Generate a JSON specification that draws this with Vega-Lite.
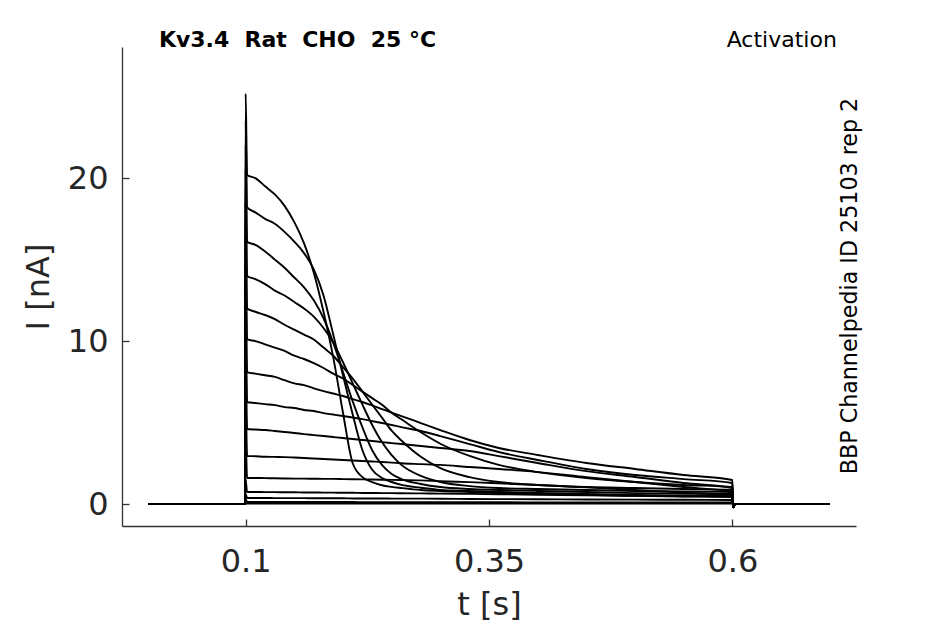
{
  "$schema": "https://vega.github.io/schema/vega-lite/v6.json",
  "width": 734,
  "height": 479,
  "autosize": {"type": "none"},
  "padding": {"left": 122, "top": 47, "right": 89, "bottom": 98},
  "background": "white",
  "data": {
    "values": [
      {"t": 0, "T1": 0, "T2": 0, "T3": 0, "T4": 0, "T5": 0, "T6": 0, "T7": 0, "T8": 0, "T9": 0, "T10": 0, "T11": 0, "T12": 0, "T13": 0, "T14": 0, "T15": 0},
      {"t": 0.0995, "T1": 0, "T2": 0, "T3": 0, "T4": 0, "T5": 0, "T6": 0, "T7": 0, "T8": 0, "T9": 0, "T10": 0, "T11": 0, "T12": 0, "T13": 0, "T14": 0, "T15": 0},
      {"t": 0.1, "T1": 25.2, "T2": 23.5, "T3": 22.0, "T4": 20.5, "T5": 18.5, "T6": 16.5, "T7": 14.0, "T8": 12.0, "T9": 9.5, "T10": 6.5, "T11": 4.0, "T12": 1.5, "T13": 0.6, "T14": 0.3, "T15": 0},
      {"t": 0.1015, "T1": 20.2, "T2": 18.2, "T3": 16.1, "T4": 14.0, "T5": 12.0, "T6": 10.1, "T7": 8.1, "T8": 6.26, "T9": 4.6, "T10": 2.95, "T11": 1.6, "T12": 0.74, "T13": 0.37, "T14": 0.12, "T15": 0.03},
      {"t": 0.11, "T1": 20.0, "T2": 17.9, "T3": 15.9, "T4": 13.8, "T5": 11.8, "T6": 10.0, "T7": 8.0, "T8": 6.2, "T9": 4.57, "T10": 2.93, "T11": 1.6, "T12": 0.74, "T13": 0.37, "T14": 0.12, "T15": 0.03},
      {"t": 0.12, "T1": 19.5, "T2": 17.5, "T3": 15.5, "T4": 13.5, "T5": 11.6, "T6": 9.8, "T7": 7.9, "T8": 6.13, "T9": 4.54, "T10": 2.9, "T11": 1.59, "T12": 0.73, "T13": 0.37, "T14": 0.12, "T15": 0.03},
      {"t": 0.13, "T1": 19.0, "T2": 17.2, "T3": 15.0, "T4": 13.1, "T5": 11.35, "T6": 9.6, "T7": 7.8, "T8": 6.07, "T9": 4.48, "T10": 2.89, "T11": 1.58, "T12": 0.73, "T13": 0.36, "T14": 0.12, "T15": 0.03},
      {"t": 0.14, "T1": 18.3, "T2": 16.7, "T3": 14.5, "T4": 12.8, "T5": 11.0, "T6": 9.4, "T7": 7.6, "T8": 5.95, "T9": 4.42, "T10": 2.88, "T11": 1.57, "T12": 0.72, "T13": 0.36, "T14": 0.12, "T15": 0.03},
      {"t": 0.15, "T1": 17.3, "T2": 16.1, "T3": 13.9, "T4": 12.4, "T5": 10.7, "T6": 9.1, "T7": 7.4, "T8": 5.89, "T9": 4.36, "T10": 2.85, "T11": 1.56, "T12": 0.72, "T13": 0.36, "T14": 0.12, "T15": 0.03},
      {"t": 0.16, "T1": 16.0, "T2": 15.4, "T3": 13.3, "T4": 12.0, "T5": 10.4, "T6": 8.9, "T7": 7.3, "T8": 5.77, "T9": 4.29, "T10": 2.82, "T11": 1.56, "T12": 0.71, "T13": 0.36, "T14": 0.12, "T15": 0.03},
      {"t": 0.17, "T1": 14.2, "T2": 14.4, "T3": 12.5, "T4": 11.5, "T5": 10.1, "T6": 8.65, "T7": 7.1, "T8": 5.71, "T9": 4.23, "T10": 2.79, "T11": 1.55, "T12": 0.71, "T13": 0.35, "T14": 0.12, "T15": 0.03},
      {"t": 0.18, "T1": 11.8, "T2": 12.8, "T3": 11.4, "T4": 10.8, "T5": 9.6, "T6": 8.35, "T7": 6.93, "T8": 5.58, "T9": 4.17, "T10": 2.76, "T11": 1.54, "T12": 0.7, "T13": 0.35, "T14": 0.12, "T15": 0.03},
      {"t": 0.19, "T1": 9.0, "T2": 10.4, "T3": 9.9, "T4": 9.9, "T5": 9.1, "T6": 8.0, "T7": 6.78, "T8": 5.49, "T9": 4.11, "T10": 2.73, "T11": 1.54, "T12": 0.7, "T13": 0.35, "T14": 0.12, "T15": 0.03},
      {"t": 0.2, "T1": 5.6, "T2": 7.9, "T3": 8.1, "T4": 8.7, "T5": 8.4, "T6": 7.7, "T7": 6.63, "T8": 5.4, "T9": 4.05, "T10": 2.7, "T11": 1.53, "T12": 0.69, "T13": 0.35, "T14": 0.12, "T15": 0.03},
      {"t": 0.21, "T1": 2.5, "T2": 5.5, "T3": 6.3, "T4": 7.4, "T5": 7.7, "T6": 7.3, "T7": 6.44, "T8": 5.31, "T9": 3.99, "T10": 2.67, "T11": 1.52, "T12": 0.69, "T13": 0.34, "T14": 0.12, "T15": 0.03},
      {"t": 0.22, "T1": 1.65, "T2": 3.3, "T3": 4.7, "T4": 6.1, "T5": 6.9, "T6": 6.9, "T7": 6.26, "T8": 5.21, "T9": 3.93, "T10": 2.64, "T11": 1.51, "T12": 0.68, "T13": 0.34, "T14": 0.11, "T15": 0.03},
      {"t": 0.23, "T1": 1.35, "T2": 2.1, "T3": 3.3, "T4": 4.85, "T5": 6.1, "T6": 6.5, "T7": 6.05, "T8": 5.09, "T9": 3.87, "T10": 2.61, "T11": 1.5, "T12": 0.68, "T13": 0.34, "T14": 0.11, "T15": 0.03},
      {"t": 0.24, "T1": 1.15, "T2": 1.6, "T3": 2.4, "T4": 3.8, "T5": 5.3, "T6": 6.1, "T7": 5.83, "T8": 4.97, "T9": 3.8, "T10": 2.58, "T11": 1.49, "T12": 0.67, "T13": 0.34, "T14": 0.11, "T15": 0.03},
      {"t": 0.25, "T1": 1.05, "T2": 1.35, "T3": 1.84, "T4": 3.0, "T5": 4.5, "T6": 5.6, "T7": 5.61, "T8": 4.85, "T9": 3.74, "T10": 2.54, "T11": 1.48, "T12": 0.67, "T13": 0.33, "T14": 0.11, "T15": 0.03},
      {"t": 0.26, "T1": 0.98, "T2": 1.17, "T3": 1.53, "T4": 2.4, "T5": 3.9, "T6": 5.2, "T7": 5.4, "T8": 4.72, "T9": 3.68, "T10": 2.5, "T11": 1.47, "T12": 0.66, "T13": 0.33, "T14": 0.11, "T15": 0.03},
      {"t": 0.28, "T1": 0.86, "T2": 1.0, "T3": 1.23, "T4": 1.72, "T5": 2.9, "T6": 4.4, "T7": 4.97, "T8": 4.48, "T9": 3.56, "T10": 2.45, "T11": 1.45, "T12": 0.65, "T13": 0.33, "T14": 0.11, "T15": 0.03},
      {"t": 0.3, "T1": 0.8, "T2": 0.86, "T3": 1.04, "T4": 1.35, "T5": 2.2, "T6": 3.7, "T7": 4.54, "T8": 4.17, "T9": 3.44, "T10": 2.4, "T11": 1.4, "T12": 0.64, "T13": 0.32, "T14": 0.11, "T15": 0.03},
      {"t": 0.33, "T1": 0.74, "T2": 0.8, "T3": 0.92, "T4": 1.1, "T5": 1.65, "T6": 2.95, "T7": 3.93, "T8": 3.68, "T9": 3.25, "T10": 2.27, "T11": 1.34, "T12": 0.62, "T13": 0.31, "T14": 0.11, "T15": 0.03},
      {"t": 0.36, "T1": 0.68, "T2": 0.74, "T3": 0.86, "T4": 0.98, "T5": 1.35, "T6": 2.4, "T7": 3.44, "T8": 3.19, "T9": 2.94, "T10": 2.15, "T11": 1.27, "T12": 0.6, "T13": 0.3, "T14": 0.11, "T15": 0.03},
      {"t": 0.4, "T1": 0.62, "T2": 0.68, "T3": 0.8, "T4": 0.92, "T5": 1.17, "T6": 1.96, "T7": 3.01, "T8": 2.7, "T9": 2.52, "T10": 1.96, "T11": 1.17, "T12": 0.57, "T13": 0.29, "T14": 0.1, "T15": 0.03},
      {"t": 0.45, "T1": 0.57, "T2": 0.62, "T3": 0.74, "T4": 0.86, "T5": 1.04, "T6": 1.6, "T7": 2.52, "T8": 2.15, "T9": 2.02, "T10": 1.65, "T11": 1.03, "T12": 0.53, "T13": 0.28, "T14": 0.1, "T15": 0.03},
      {"t": 0.5, "T1": 0.5, "T2": 0.56, "T3": 0.67, "T4": 0.8, "T5": 0.98, "T6": 1.35, "T7": 2.15, "T8": 1.78, "T9": 1.66, "T10": 1.35, "T11": 0.86, "T12": 0.5, "T13": 0.27, "T14": 0.1, "T15": 0.03},
      {"t": 0.55, "T1": 0.48, "T2": 0.52, "T3": 0.64, "T4": 0.77, "T5": 0.92, "T6": 1.17, "T7": 1.78, "T8": 1.53, "T9": 1.29, "T10": 1.04, "T11": 0.7, "T12": 0.46, "T13": 0.26, "T14": 0.1, "T15": 0.03},
      {"t": 0.6, "T1": 0.45, "T2": 0.5, "T3": 0.61, "T4": 0.74, "T5": 0.86, "T6": 1.04, "T7": 1.47, "T8": 1.29, "T9": 0.98, "T10": 0.74, "T11": 0.55, "T12": 0.43, "T13": 0.25, "T14": 0.1, "T15": 0.03},
      {"t": 0.6008, "T1": -0.2, "T2": -0.2, "T3": -0.2, "T4": -0.2, "T5": -0.2, "T6": -0.2, "T7": -0.2, "T8": -0.2, "T9": -0.2, "T10": -0.2, "T11": -0.1, "T12": -0.1, "T13": -0.1, "T14": -0.1, "T15": -0.1},
      {"t": 0.603, "T1": 0, "T2": 0, "T3": 0, "T4": 0, "T5": 0, "T6": 0, "T7": 0, "T8": 0, "T9": 0, "T10": 0, "T11": 0, "T12": 0, "T13": 0, "T14": 0, "T15": 0},
      {"t": 0.7, "T1": 0, "T2": 0, "T3": 0, "T4": 0, "T5": 0, "T6": 0, "T7": 0, "T8": 0, "T9": 0, "T10": 0, "T11": 0, "T12": 0, "T13": 0, "T14": 0, "T15": 0}
    ]
  },
  "layer": [
    {
      "transform": [
        {"fold": ["T1", "T2", "T3", "T4", "T5", "T6", "T7", "T8", "T9", "T10", "T11", "T12", "T13", "T14", "T15"], "as": ["trace", "I"]}
      ],
      "mark": {"type": "line", "color": "black", "strokeWidth": 1.9, "strokeJoin": "round", "interpolate": "monotone"},
      "encoding": {
        "x": {
          "field": "t",
          "type": "quantitative",
          "title": "t [s]",
          "scale": {"domain": [-0.027, 0.727], "nice": false, "zero": false},
          "axis": {"values": [0.1, 0.35, 0.6], "format": "~g", "labelPadding": 27, "titlePadding": 12}
        },
        "y": {
          "field": "I",
          "type": "quantitative",
          "title": "I [nA]",
          "scale": {"domain": [-1.35, 28.05], "nice": false, "zero": false},
          "axis": {"values": [0, 10, 20], "labelPadding": 21, "titlePadding": 12}
        },
        "detail": {"field": "trace", "type": "nominal"}
      }
    },
    {
      "data": {"values": [{"label": "Kv3.4 \u00a0Rat \u00a0CHO \u00a025 °C"}]},
      "mark": {"type": "text", "align": "left", "baseline": "alphabetic", "fontWeight": "bold", "fontSize": 22, "font": "DejaVu Sans", "color": "black"},
      "encoding": {
        "x": {"datum": 0.0109, "type": "quantitative"},
        "y": {"datum": 28.05, "type": "quantitative"},
        "text": {"field": "label"}
      }
    },
    {
      "data": {"values": [{"label": "Activation"}]},
      "mark": {"type": "text", "align": "right", "baseline": "alphabetic", "fontSize": 22, "font": "DejaVu Sans", "color": "black"},
      "encoding": {
        "x": {"datum": 0.7073, "type": "quantitative"},
        "y": {"datum": 28.08, "type": "quantitative"},
        "text": {"field": "label"}
      }
    },
    {
      "data": {"values": [{"label": "BBP Channelpedia ID 25103 rep 2"}]},
      "mark": {"type": "text", "align": "center", "baseline": "alphabetic", "angle": 270, "fontSize": 22.2, "font": "DejaVu Sans", "color": "black"},
      "encoding": {
        "x": {"datum": 0.7278, "type": "quantitative"},
        "y": {"datum": 13.38, "type": "quantitative"},
        "text": {"field": "label"}
      }
    }
  ],
  "config": {
    "view": {"stroke": null},
    "font": "DejaVu Sans",
    "axis": {
      "grid": false,
      "labelFont": "DejaVu Sans",
      "titleFont": "DejaVu Sans",
      "labelFontSize": 32,
      "titleFontSize": 32,
      "titleFontWeight": "normal",
      "labelColor": "#262626",
      "titleColor": "#262626",
      "domainColor": "#333333",
      "tickColor": "#333333",
      "domainWidth": 1.3,
      "tickWidth": 1.3,
      "tickSize": -7
    }
  }
}
